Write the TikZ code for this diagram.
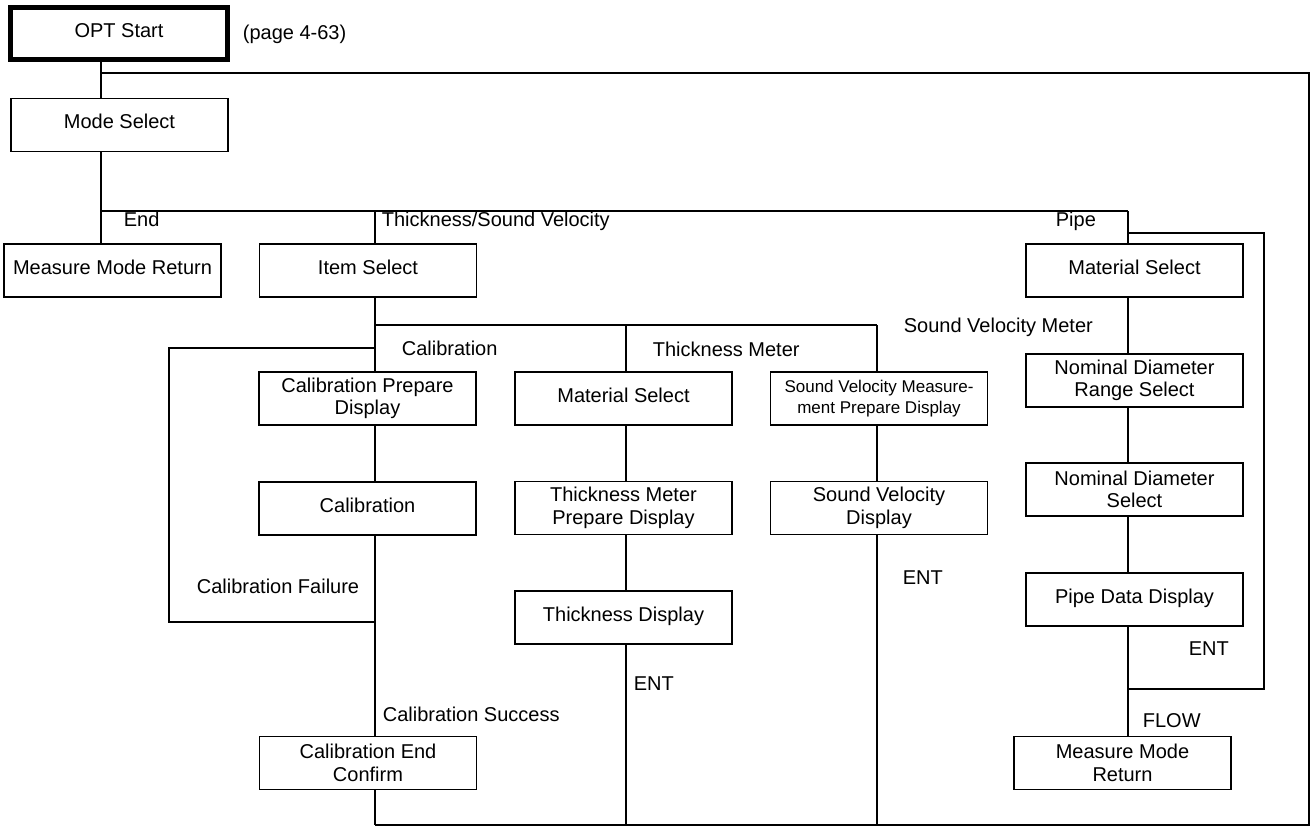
\documentclass[tikz,border=0pt]{standalone}
\usepackage{fontspec}
\setmainfont{Liberation Sans}
\begin{document}
\begin{tikzpicture}[x=1pt,y=-1pt,
  line width=1.7pt,
  box/.style={draw,line width=1.6pt,minimum width=217pt,minimum height=53pt,align=center,inner sep=0pt,font=\fontsize{20}{22.5}\selectfont},
  one/.style={text height=14.5pt,text depth=7.5pt},
  lbl/.style={anchor=base west,inner sep=0pt,font=\fontsize{20}{22.5}\selectfont}]
\useasboundingbox (0,0) rectangle (1316,827);
% boxes
\node[box,one,line width=4.5pt,minimum height=52pt] (opt) at (119,33.5) {OPT Start};
\node[box,one] (mode) at (119.5,125) {Mode Select};
\node[box,one] (mmr1) at (112.5,270.5) {Measure Mode Return};
\node[box,one] (item) at (368,270.5) {Item Select};
\node[box,one] (matP) at (1134.5,270.5) {Material Select};
\node[box] (calprep) at (367.5,398.5) {Calibration Prepare\\Display};
\node[box,one] (matT) at (623.5,398.5) {Material Select};
\node[box,font=\fontsize{17}{21}\selectfont] (svprep) at (879,398.5) {Sound Velocity Measure-\\ment Prepare Display};
\node[box,one] (cal) at (367.5,508.5) {Calibration};
\node[box] (tmprep) at (623.5,508) {Thickness Meter\\Prepare Display};
\node[box] (svdisp) at (879,508) {Sound Velocity\\Display};
\node[box,one] (tdisp) at (623.5,617.5) {Thickness Display};
\node[box] (calend) at (368,763) {Calibration End\\Confirm};
\node[box] (ndr) at (1134.5,380.5) {Nominal Diameter\\Range Select};
\node[box] (nds) at (1134.5,489.5) {Nominal Diameter\\Select};
\node[box,one] (pdd) at (1134.5,599.5) {Pipe Data Display};
\node[box] (mmr2) at (1122.5,763) {Measure Mode\\Return};
% junctions
\coordinate (t0) at (101,73);
\coordinate (r0) at (1309,73);
\coordinate (r1) at (1309,825);
\coordinate (b0) at (375,825);
\coordinate (b1) at (626,825);
\coordinate (b2) at (877,825);
\coordinate (m0) at (101,211);
\coordinate (m1) at (375,211);
\coordinate (m2) at (1128,211);
\coordinate (p0) at (1128,233);
\coordinate (p1) at (1264,233);
\coordinate (p2) at (1264,689);
\coordinate (p3) at (1128,689);
\coordinate (i0) at (375,325);
\coordinate (i1) at (626,325);
\coordinate (i2) at (877,325);
\coordinate (c0) at (375,348);
\coordinate (c1) at (169,348);
\coordinate (c2) at (169,622);
\coordinate (c3) at (375,622);
% connectors
\draw (opt.south -| t0) -- (mode.north -| t0);
\draw (t0) -- (r0) -- (r1) -- (b0);
\draw (mode.south -| m0) -- (m0) -- (m2);
\draw (m0) -- (mmr1.north -| m0);
\draw (m1) -- (item.north -| m1);
\draw (m2) -- (matP.north -| m2);
\draw (p0) -- (p1) -- (p2) -- (p3);
\draw (matP.south -| m2) -- (ndr.north -| m2);
\draw (ndr.south -| m2) -- (nds.north -| m2);
\draw (nds.south -| m2) -- (pdd.north -| m2);
\draw (pdd.south -| m2) -- (mmr2.north -| m2);
\draw (item.south -| i0) -- (i0) -- (i2);
\draw (i0) -- (calprep.north -| i0);
\draw (i1) -- (matT.north -| i1);
\draw (i2) -- (svprep.north -| i2);
\draw (calprep.south -| i0) -- (cal.north -| i0);
\draw (cal.south -| i0) -- (calend.north -| i0);
\draw (c0) -- (c1) -- (c2) -- (c3);
\draw (calend.south -| i0) -- (b0);
\draw (matT.south -| i1) -- (tmprep.north -| i1);
\draw (tmprep.south -| i1) -- (tdisp.north -| i1);
\draw (tdisp.south -| i1) -- (b1);
\draw (svprep.south -| i2) -- (svdisp.north -| i2);
\draw (svdisp.south -| i2) -- (b2);
% labels
\node[lbl] (lpage) at (242,39) {(page 4-63)};
\node[lbl] (lend) at (123,226) {End};
\node[lbl] (lts) at (381,226) {Thickness/Sound Velocity};
\node[lbl] (lpipe) at (1055,226) {Pipe};
\node[lbl] (lsvm) at (903,332) {Sound Velocity Meter};
\node[lbl] (lcal) at (401,355) {Calibration};
\node[lbl] (ltm) at (652,356) {Thickness Meter};
\node[lbl] (lcf) at (196,593) {Calibration Failure};
\node[lbl] (lent1) at (902,584) {ENT};
\node[lbl] (lcs) at (382,721) {Calibration Success};
\node[lbl] (lent2) at (633,690) {ENT};
\node[lbl] (lent3) at (1188,655) {ENT};
\node[lbl] (lflow) at (1142,727) {FLOW};
\end{tikzpicture}
\end{document}
